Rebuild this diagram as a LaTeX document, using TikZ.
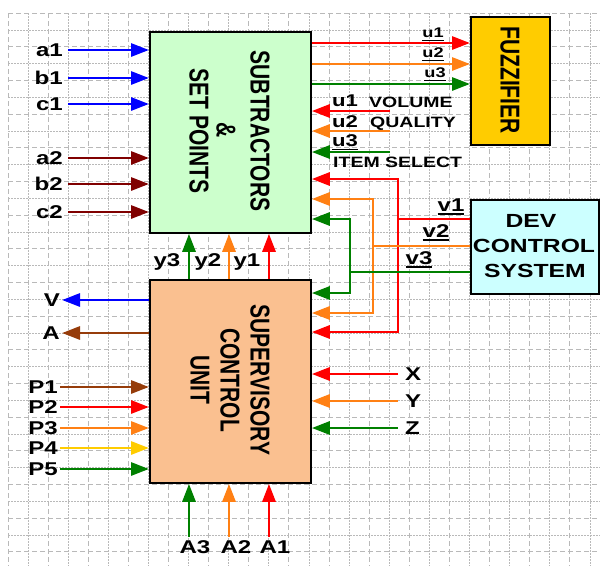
\documentclass[tikz,border=0pt]{standalone}
\usepackage{fontspec}
\setmainfont{Liberation Sans}
\usepackage{graphicx}
\usetikzlibrary{arrows.meta}
\newcommand\sx[1]{\scalebox{1.3}[1]{#1}}
\newcommand\fs[1]{\fontsize{#1}{#1}\selectfont}
\newcommand\ulx[1]{\vtop{\hbox{#1}\kern1.6pt\hrule height 1.6pt}}
\definecolor{cRed}{RGB}{255,0,0}
\definecolor{cOrg}{RGB}{255,128,20}
\definecolor{cGrn}{RGB}{0,128,0}
\definecolor{cBlu}{RGB}{0,0,255}
\definecolor{cMar}{RGB}{128,0,0}
\definecolor{cBrn}{RGB}{150,60,10}
\definecolor{cYel}{RGB}{255,204,0}
\definecolor{fSub}{RGB}{204,255,204}
\definecolor{fSup}{RGB}{250,192,144}
\definecolor{fFuz}{RGB}{255,204,0}
\definecolor{fDev}{RGB}{204,255,255}
\definecolor{cGrid}{RGB}{185,185,185}
\begin{document}
\begin{tikzpicture}[x=1pt,y=-1pt,
  lab/.style={inner sep=0pt, text depth=0pt, font=\bfseries\fs{18.5}},
  slab/.style={lab, font=\bfseries\fs{15}},
  mlab/.style={lab, font=\bfseries\fs{17}},
  ulab/.style={lab, font=\bfseries\fs{14}},
  btxt/.style={inner sep=0pt, font=\bfseries\fs{21}},
  dtxt/.style={inner sep=0pt, text depth=0pt, font=\bfseries\fs{19}},
  box/.style={draw=black, line width=1.8pt, inner sep=0pt, anchor=north west},
  arr/.style={line width=2.9pt, -{Triangle[length=18pt,width=13pt]}},
  wire/.style={line width=2.9pt},
  gdash/.style={cGrid, line width=1pt, dash pattern=on 5pt off 3pt},
  gdot/.style={cGrid, line width=1pt, dash pattern=on 1.5pt off 1.5pt},
]
\useasboundingbox (0,0) rectangle (600,566);
\fill[white] (0,0) rectangle (600,566);
% grid
\foreach \i in {0,...,29}{
  \pgfmathsetmacro{\gx}{8+20.07*\i}
  \ifodd\i \draw[gdot] (\gx,13.3) -- (\gx,566); \else \draw[gdash] (\gx,13.3) -- (\gx,566); \fi
}
\foreach \j in {0,...,32}{
  \pgfmathsetmacro{\gy}{13.3+16.83*\j}
  \ifodd\j \draw[gdot] (8,\gy) -- (600,\gy); \else \draw[gdash] (8,\gy) -- (600,\gy); \fi
}
% boxes
\node[box, fill=fSub, minimum width=161pt, minimum height=201pt] (sub) at (149,31) {};
\node[box, fill=fSup, minimum width=161pt, minimum height=203pt] (sup) at (149,279) {};
\node[box, fill=fFuz, minimum width=79pt, minimum height=128pt] (fuz) at (470,16) {};
\node[box, fill=fDev, minimum width=128pt, minimum height=94pt] (dev) at (470,199) {};
% box texts
\node[btxt] (t1) at (260,131) {\sx{\rotatebox{-90}{SUBTRACTORS}}};
\node[btxt] (t2) at (226,130) {\sx{\rotatebox{-90}{\&}}};
\node[btxt] (t3) at (199,131) {\sx{\rotatebox{-90}{SET POINTS}}};
\node[btxt] (t4) at (260,380) {\sx{\rotatebox{-90}{SUPERVISORY}}};
\node[btxt] (t5) at (230,380) {\sx{\rotatebox{-90}{CONTROL}}};
\node[btxt] (t6) at (200,380) {\sx{\rotatebox{-90}{UNIT}}};
\node[btxt] (t7) at (510,80) {\sx{\rotatebox{-90}{FUZZIFIER}}};
\node[dtxt] (t8) at (531,221) {\sx{DEV}};
\node[dtxt] (t9) at (534,246) {\sx{CONTROL}};
\node[dtxt] (t10) at (535,271) {\sx{SYSTEM}};
% left inputs
\foreach \n/\yy/\c in {a1/50/cBlu, b1/78/cBlu, c1/104/cBlu, a2/158/cMar, b2/184/cMar, c2/212/cMar}{
  \node[lab, anchor=east] (L\n) at (63,\yy) {\sx{\n}};
  \coordinate (S\n) at (68,\yy);
  \draw[arr, \c] (S\n) -- (S\n -| sub.west);
}
% V, A outputs
\node[lab, anchor=east] (LV) at (60,300) {\sx{V}};
\coordinate (EV) at (62,300);
\draw[arr, cBlu] (EV -| sup.west) -- (EV);
\node[lab, anchor=east] (LA) at (60,333) {\sx{A}};
\coordinate (EA) at (62,333);
\draw[arr, cBrn] (EA -| sup.west) -- (EA);
% P inputs
\foreach \n/\yy/\c in {P1/387/cBrn, P2/407/cRed, P3/428/cOrg, P4/448/cYel, P5/469/cGrn}{
  \node[lab, anchor=east] (L\n) at (58,\yy) {\sx{\n}};
  \coordinate (S\n) at (60,\yy);
  \draw[arr, \c] (S\n) -- (S\n -| sup.west);
}
% X Y Z
\foreach \n/\yy/\c in {X/374/cRed, Y/401/cOrg, Z/428/cGrn}{
  \node[lab, anchor=west] (L\n) at (405,\yy) {\sx{\n}};
  \coordinate (S\n) at (398,\yy);
  \draw[arr, \c] (S\n) -- (S\n -| sup.east);
}
% A3 A2 A1
\foreach \n/\xx/\lx/\c in {A3/189/195/cGrn, A2/229/236/cOrg, A1/269/275/cRed}{
  \node[lab] (L\n) at (\lx,547) {\sx{\n}};
  \coordinate (S\n) at (\xx,537);
  \draw[arr, \c] (S\n) -- (S\n |- sup.south);
}
% y3 y2 y1
\foreach \n/\xx/\lx/\c in {y3/189/167/cGrn, y2/229/208/cOrg, y1/269/247/cRed}{
  \node[lab] (L\n) at (\lx,260) {\sx{\n}};
  \coordinate (S\n) at (\xx,0);
  \draw[arr, \c] (S\n |- sup.north) -- (S\n |- sub.south);
}
% to fuzzifier
\foreach \n/\yy/\c/\lx/\ly in {u1/43/cRed/433/33, u2/64/cOrg/433/53, u3/84/cGrn/435/73}{
  \coordinate (F\n) at (0,\yy);
  \draw[arr, \c] (F\n -| sub.east) -- (F\n -| fuz.west);
  \node[ulab] (FL\n) at (\lx,\ly) {\sx{\ulx{\n}}};
}
% feedback u inputs
\foreach \n/\yy/\c in {m1/111/cRed, m2/131/cOrg, m3/152/cGrn}{
  \coordinate (S\n) at (390,\yy);
  \draw[arr, \c] (S\n) -- (S\n -| sub.east);
}
\node[mlab, anchor=west] (Lm1) at (332,101) {\sx{u1}};
\node[slab, anchor=west] (Lvol) at (369,102) {\sx{VOLUME}};
\node[mlab, anchor=west] (Lm2) at (332,122) {\sx{u2}};
\node[slab, anchor=west] (Lqua) at (370,122) {\sx{QUALITY}};
\node[mlab, anchor=west] (Lm3) at (332,141) {\sx{\ulx{u3}}};
\node[slab, anchor=west] (Lits) at (333,162) {\sx{ITEM SELECT}};
% dev control feedback
\coordinate (JR) at (398,219);
\coordinate (JO) at (373,246);
\coordinate (JG) at (350,272);
\coordinate (R1) at (0,179);
\coordinate (R2) at (0,332);
\coordinate (O1) at (0,199);
\coordinate (O2) at (0,313);
\coordinate (G1) at (0,219);
\coordinate (G2) at (0,293);
\draw[wire, cRed] (JR -| dev.west) -- (JR);
\draw[arr, cRed] (JR) |- (sub.east |- R1);
\draw[arr, cRed] (JR) |- (sup.east |- R2);
\draw[wire, cOrg] (JO -| dev.west) -- (JO);
\draw[arr, cOrg] (JO) |- (sub.east |- O1);
\draw[arr, cOrg] (JO) |- (sup.east |- O2);
\draw[wire, cGrn] (JG -| dev.west) -- (JG);
\draw[arr, cGrn] (JG) |- (sub.east |- G1);
\draw[arr, cGrn] (JG) |- (sup.east |- G2);
\node[lab] (Lv1) at (451,205) {\sx{\ulx{v1}}};
\node[lab] (Lv2) at (436,231) {\sx{\ulx{v2}}};
\node[lab] (Lv3) at (419,258) {\sx{\ulx{v3}}};
\end{tikzpicture}
\end{document}
